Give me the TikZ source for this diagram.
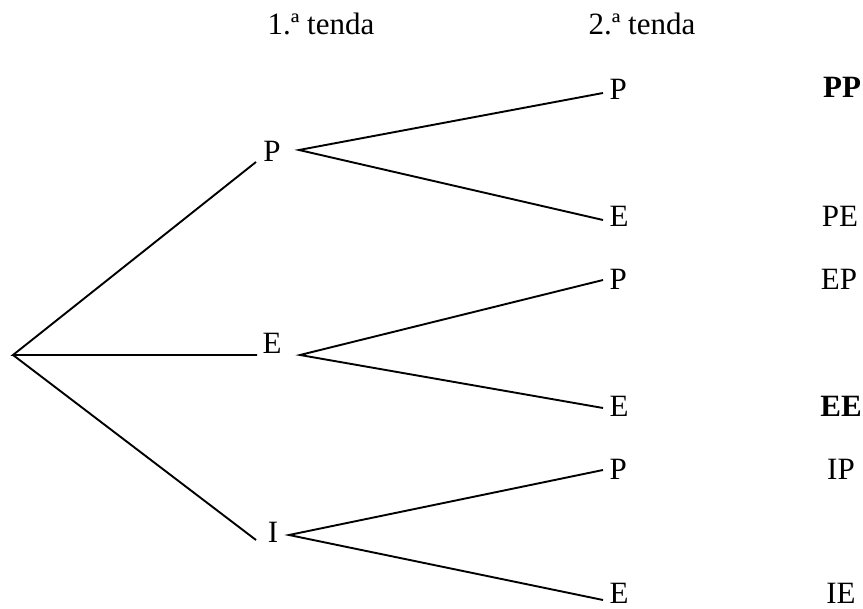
\documentclass[tikz,border=0pt]{standalone}
\usepackage{fontspec}
\setmainfont{Liberation Serif}
\begin{document}
\begin{tikzpicture}[x=1pt,y=-1pt,
  every node/.style={inner sep=0pt,font=\fontsize{31}{37}\selectfont},
  edge/.style={line width=1.9pt},
  lvone/.style={anchor=base},
  lvtwo/.style={anchor=base west},
  res/.style={anchor=base}]
\useasboundingbox (0,0) rectangle (863,609);
\clip (0,0) rectangle (863,609);
% headers
\node[anchor=base] (h1) at (321,35) {1.ª tenda};
\node[anchor=base] (h2) at (642,35) {2.ª tenda};
% root
\coordinate (root) at (13,355);
% level 1
\node[lvone] (P) at (272,162) {P};
\node[lvone] (E) at (272,354) {E};
\node[lvone] (I) at (273,543) {I};
\coordinate (Pin) at (256,162);
\coordinate (Ein) at (257,355);
\coordinate (Iin) at (256,540);
\coordinate (Pout) at (299,150);
\coordinate (Eout) at (300,355);
\coordinate (Iout) at (289,535);
% level 2
\node[lvtwo] (PP) at (609.5,100) {P};
\node[lvtwo] (PE) at (609.5,227) {E};
\node[lvtwo] (EP) at (609.5,290) {P};
\node[lvtwo] (EE) at (609.5,417) {E};
\node[lvtwo] (IP) at (609.5,480) {P};
\node[lvtwo] (IE) at (609.5,604) {E};
\coordinate (PPin) at (603,93);
\coordinate (PEin) at (603,220);
\coordinate (EPin) at (603,280);
\coordinate (EEin) at (603,408);
\coordinate (IPin) at (603,470);
\coordinate (IEin) at (603,600);
% results
\node[res] (rPP) at (842,98) {\textbf{PP}};
\node[res] (rPE) at (840,227) {PE};
\node[res] (rEP) at (839,290) {EP};
\node[res] (rEE) at (841,417) {\textbf{EE}};
\node[res] (rIP) at (841,480) {IP};
\node[res] (rIE) at (841,604) {IE};
% edges
\draw[edge] (Pin) -- (root) -- (Ein);
\draw[edge] (root) -- (Iin);
\draw[edge] (PPin) -- (Pout) -- (PEin);
\draw[edge] (EPin) -- (Eout) -- (EEin);
\draw[edge] (IPin) -- (Iout) -- (IEin);
\end{tikzpicture}
\end{document}
